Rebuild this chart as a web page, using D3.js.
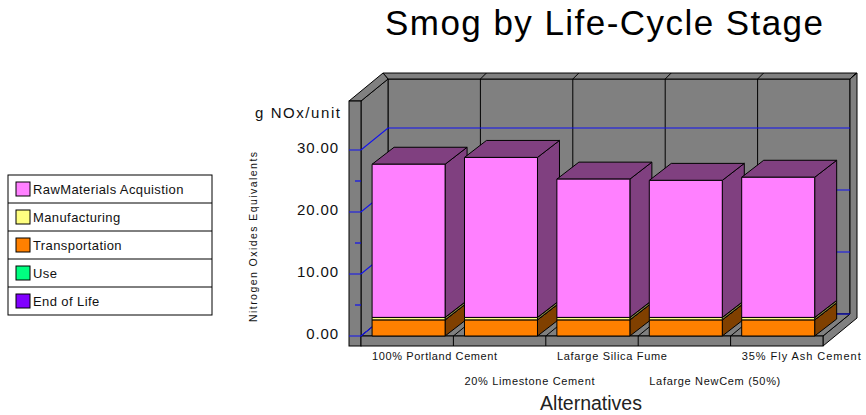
<!DOCTYPE html>
<html>
<head>
<meta charset="utf-8">
<script src="https://cdn.jsdelivr.net/npm/d3@7"></script>
<style>
  html, body { margin: 0; padding: 0; background: #fff; }
  svg { display: block; font-family: "Liberation Sans", Arial, sans-serif; }
</style>
</head>
<body>
<svg id="chart" width="866" height="415"></svg>
<script>
// Alternatives and the g NOx per unit for each life-cycle stage
const categories = ["100% Portland Cement", "20% Limestone Cement", "Lafarge Silica Fume", "Lafarge NewCem (50%)", "35% Fly Ash Cement"];
const transportation = [2.6, 2.6, 2.6, 2.6, 2.6];
const manufacturing  = [0.4, 0.4, 0.4, 0.4, 0.4];
const rawMaterials   = [24.7, 25.8, 22.3, 22.1, 22.6];
const useStage       = [0, 0, 0, 0, 0];
const endOfLife      = [0, 0, 0, 0, 0];
const majorTicks = [0, 10, 20, 30];
const minorTicks = [5, 15, 25];
const tickLabels = ["0.00", "10.00", "20.00", "30.00"];

const stages = [
  { name: "RawMaterials Acquistion", values: rawMaterials,   front: "#FF80FF", shade: "#804080" },
  { name: "Manufacturing",           values: manufacturing,  front: "#FFFF80", shade: "#808040" },
  { name: "Transportation",          values: transportation, front: "#FF8000", shade: "#804000" },
  { name: "Use",                     values: useStage,       front: "#00FF80", shade: "#008040" },
  { name: "End of Life",             values: endOfLife,      front: "#8000FF", shade: "#400080" }
];
// bottom-up stacking order
const stackOrder = ["Transportation", "Manufacturing", "RawMaterials Acquistion", "Use", "End of Life"];

const svg = d3.select("#chart");

// plot box geometry (front plane) and depth offsets
const wallDX = 27, wallDY = 22;     // depth of the floor / side wall
const barDX = 22, barDY = 17;       // depth of each bar
const wallTopValue = 37.9;
const y = d3.scaleLinear().domain([0, 30]).range([336, 150]);
const x = d3.scaleBand().domain(categories).range([361, 823]);
const xL = x.range()[0], xR = x.range()[1];
const y0 = y(0), yTop = y(wallTopValue);
const gray = "#808080";

const poly = pts => pts.map(p => p.join(",")).join(" ");
const walls = svg.append("g").attr("stroke", "#000").attr("stroke-width", 1).attr("fill", gray);

// back wall
walls.append("rect").attr("x", xL + wallDX).attr("y", yTop - wallDY)
  .attr("width", xR - xL).attr("height", y0 - yTop);
// back wall top rim and right rim
walls.append("polygon").attr("points", poly([[xL + wallDX - 5, yTop - wallDY - 6], [xR + wallDX + 7, yTop - wallDY - 6], [xR + wallDX, yTop - wallDY], [xL + wallDX, yTop - wallDY]]));
walls.append("polygon").attr("points", poly([[xR + wallDX, yTop - wallDY], [xR + wallDX + 7, yTop - wallDY - 6], [xR + wallDX + 7, y0 - wallDY + 4], [xR, y0 + 10], [xR, y0], [xR + wallDX, y0 - wallDY]]));
// side wall and its front rim
walls.append("polygon").attr("points", poly([[xL, yTop], [xL + wallDX, yTop - wallDY], [xL + wallDX, y0 - wallDY], [xL, y0]]));
walls.append("polygon").attr("points", poly([[xL - 12, yTop], [xL + wallDX - 5, yTop - wallDY - 6], [xL + wallDX, yTop - wallDY], [xL, yTop]]));
walls.append("rect").attr("x", xL - 12).attr("y", yTop).attr("width", 12).attr("height", y0 + 10 - yTop);
// floor top and front edge
walls.append("polygon").attr("points", poly([[xL, y0], [xR, y0], [xR + wallDX, y0 - wallDY], [xL + wallDX, y0 - wallDY]]));
walls.append("rect").attr("x", xL).attr("y", y0).attr("width", xR - xL).attr("height", 10);

// category dividers on back wall, floor and rims
const bounds = categories.map(c => x(c)).concat([xR]);
const div = svg.append("g").attr("stroke", "#000").attr("stroke-width", 1);
bounds.slice(1, -1).forEach(b => {
  div.append("line").attr("x1", b + wallDX).attr("x2", b + wallDX).attr("y1", yTop - wallDY).attr("y2", y0 - wallDY);
  div.append("line").attr("x1", b).attr("x2", b + wallDX).attr("y1", y0).attr("y2", y0 - wallDY);
  div.append("line").attr("x1", b).attr("x2", b).attr("y1", y0).attr("y2", y0 + 10);
});
bounds.slice(1).forEach(b => {
  div.append("line").attr("x1", b + wallDX).attr("x2", b + wallDX + 6).attr("y1", yTop - wallDY).attr("y2", yTop - wallDY - 6);
});

// gridlines: back wall, side wall diagonal, rim ticks
const grid = svg.append("g").attr("stroke", "#1010F0").attr("stroke-width", 1.2).attr("fill", "none");
majorTicks.forEach(v => {
  grid.append("polyline").attr("points", poly([[xL - 12, y(v)], [xL, y(v)], [xL + wallDX, y(v) - wallDY], [xR + wallDX, y(v) - wallDY]]));
});
minorTicks.forEach(v => {
  grid.append("line").attr("x1", xL - 6).attr("x2", xL).attr("y1", y(v)).attr("y2", y(v));
});

// stacked 3D bars, drawn left to right so each front hides the previous side
const barOffset = x.bandwidth() * 0.12, barWidth = x.bandwidth() * 0.79;
const bars = svg.append("g").attr("stroke", "#000").attr("stroke-width", 1).attr("stroke-linejoin", "round");
categories.forEach((c, i) => {
  const x0 = x(c) + barOffset, x1 = x0 + barWidth;
  let base = 0;
  stackOrder.forEach(name => {
    const s = stages.find(t => t.name === name);
    const v = s.values[i];
    if (v <= 0) return;
    const yb = y(base), yt = y(base + v);
    base += v;
    bars.append("polygon").attr("fill", s.shade)
      .attr("points", poly([[x1, yb], [x1 + barDX, yb - barDY], [x1 + barDX, yt - barDY], [x1, yt]]));
    bars.append("polygon").attr("fill", s.shade)
      .attr("points", poly([[x0, yt], [x0 + barDX, yt - barDY], [x1 + barDX, yt - barDY], [x1, yt]]));
    bars.append("rect").attr("fill", s.front)
      .attr("x", x0).attr("y", yt).attr("width", barWidth).attr("height", yb - yt);
  });
});

// title
svg.append("text").attr("x", 604).attr("y", 35).attr("text-anchor", "middle")
  .attr("font-size", 35).attr("textLength", 438).attr("lengthAdjust", "spacing")
  .text("Smog by Life-Cycle Stage");

// value axis labels
svg.append("g").selectAll("text").data(majorTicks).join("text")
  .attr("x", 339).attr("y", d => y(d) + 3).attr("text-anchor", "end")
  .attr("font-size", 15).attr("letter-spacing", 0.9).attr("fill", "#111")
  .text((d, i) => tickLabels[i]);
svg.append("text").attr("x", 255).attr("y", 118).attr("font-size", 15)
  .attr("textLength", 85).attr("lengthAdjust", "spacing").attr("fill", "#111").text("g NOx/unit");
svg.append("text").attr("transform", "translate(257,237) rotate(-90)").attr("text-anchor", "middle")
  .attr("font-size", 10.5).attr("textLength", 170).attr("lengthAdjust", "spacing").attr("fill", "#111")
  .text("Nitrogen Oxides Equivalents");

// category labels, staggered over two rows
const labelWidths = [125, 130, 110, 131, 119];
svg.append("g").selectAll("text").data(categories).join("text")
  .attr("x", d => x(d) + barOffset).attr("y", (d, i) => i % 2 === 0 ? 360 : 385)
  .attr("font-size", 11).attr("fill", "#111")
  .attr("textLength", (d, i) => labelWidths[i]).attr("lengthAdjust", "spacing")
  .text(d => d);
svg.append("text").attr("x", 591).attr("y", 410).attr("text-anchor", "middle")
  .attr("font-size", 19.5).attr("fill", "#222").text("Alternatives");

// legend
const lg = svg.append("g").attr("transform", "translate(8,175)");
const rowH = 28, legW = 204;
lg.append("rect").attr("width", legW).attr("height", rowH * stages.length)
  .attr("fill", "#fff").attr("stroke", "#000");
stages.forEach((s, i) => {
  if (i > 0) lg.append("line").attr("x1", 0).attr("x2", legW).attr("y1", i * rowH).attr("y2", i * rowH).attr("stroke", "#000");
  lg.append("rect").attr("x", 8).attr("y", i * rowH + 7).attr("width", 14).attr("height", 14)
    .attr("fill", s.front).attr("stroke", "#000");
  lg.append("text").attr("x", 25).attr("y", i * rowH + 19).attr("font-size", 13)
    .attr("letter-spacing", 0.4).attr("fill", "#111").text(s.name);
});
</script>
</body>
</html>
